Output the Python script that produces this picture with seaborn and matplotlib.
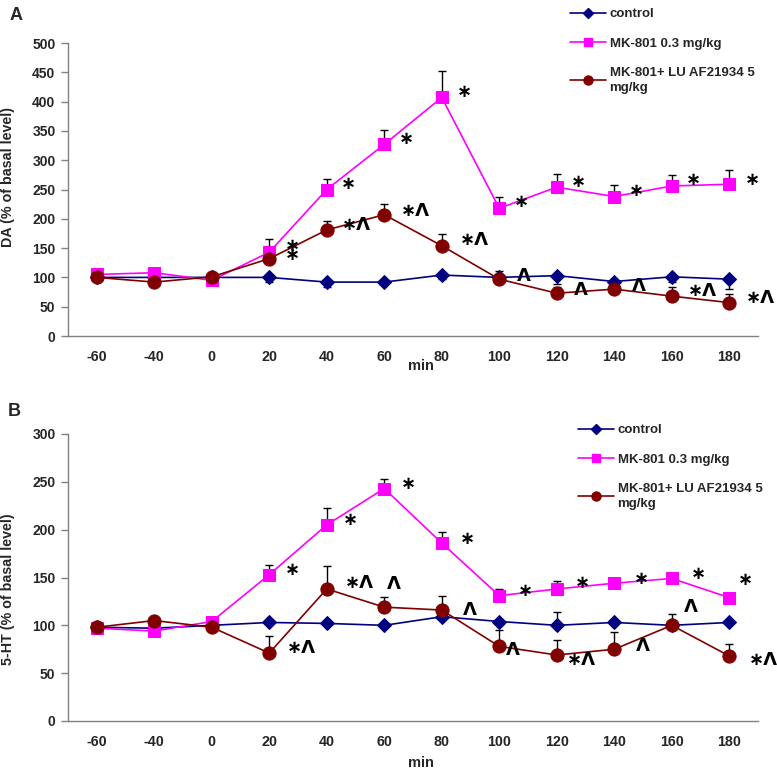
import numpy as np
import pandas as pd
import matplotlib
matplotlib.use("Agg")
import matplotlib.pyplot as plt
import seaborn as sns
from matplotlib.lines import Line2D

# ---------------- data ----------------
times = ['-60', '-40', '0', '20', '40', '60', '80', '100', '120', '140', '160', '180']
series = ['control', 'MK-801 0.3 mg/kg', 'MK-801+ LU AF21934 5\nmg/kg']

# Panel A: DA
da_control = [100, 100, 100, 100, 92, 92, 104, 100, 103, 93, 101, 97]
da_control_err = [0, 0, 0, 8, 8, 3, 7, 3, 14, 5, 8, 17]      # drawn downward
da_mk = [105, 108, 95, 143, 250, 327, 407, 218, 254, 238, 256, 259]
da_mk_err = [0, 0, 0, 22, 18, 24, 45, 20, 22, 20, 19, 25]
da_lu = [100, 92, 101, 132, 181, 207, 154, 97, 73, 80, 68, 57]
da_lu_err = [0, 0, 0, 0, 16, 18, 20, 14, 11, 0, 16, 15]

# Panel B: 5-HT
ht_control = [98, 97, 100, 103, 102, 100, 109, 104, 100, 103, 100, 103]
ht_control_err = [0, 0, 0, 0, 0, 0, 0, 0, 14, 0, 0, 0]
ht_mk = [97, 94, 104, 153, 205, 243, 186, 131, 138, 144, 149, 129]
ht_mk_err = [0, 0, 0, 10, 18, 10, 12, 7, 8, 0, 6, 0]
ht_lu = [98, 105, 98, 71, 138, 119, 116, 78, 69, 75, 100, 68]
ht_lu_err = [0, 0, 0, 18, 24, 11, 15, 17, 16, 18, 12, 13]

# significance marks: (time, y-value, text)
da_marks = [('20', 153, '*'), ('20', 139, '*'), ('40', 260, '*'), ('40', 190, '*^'),
            ('60', 337, '*'), ('60', 214, '*^'), ('80', 416, '*'), ('80', 163, '*^'),
            ('100', 229, '*'), ('100', 103, '^'), ('120', 263, '*'), ('120', 78, '^'),
            ('140', 247, '*'), ('140', 86, '^'), ('160', 266, '*'), ('160', 76, '*^'),
            ('180', 267, '*'), ('180', 65, '*^')]
ht_marks = [('20', 158, '*'), ('20', 76, '*^'), ('40', 210, '*'), ('40', 144, '*^'),
            ('60', 143, '^'), ('60', 248, '*'), ('80', 190, '*'), ('80', 116, '^'),
            ('100', 136, '*'), ('100', 74, '^'), ('120', 144, '*'), ('120', 64, '*^'),
            ('140', 148, '*'), ('140', 78, '^'), ('160', 154, '*'), ('160', 119, '^'),
            ('180', 147, '*'), ('180', 64, '*^')]
da_mark_dx = [0.4, 0.4, 0.37, 0.52, 0.38, 0.54, 0.4, 0.56, 0.38, 0.43, 0.37, 0.42,
              0.38, 0.43, 0.37, 0.54, 0.4, 0.54]
ht_mark_dx = [0.4, 0.56, 0.42, 0.56, 0.16, 0.42, 0.45, 0.49, 0.45, 0.24, 0.45, 0.42,
              0.47, 0.5, 0.47, 0.33, 0.28, 0.59]

# ---------------- style ----------------
sns.set_style("white")
plt.rcParams['font.family'] = ['Liberation Sans', 'DejaVu Sans']
plt.rcParams['font.weight'] = 'bold'

colors = ['#000080', '#FF00FF', '#800000']
markers = ['D', 's', 'o']
msizes = [7, 8, 9.5]
lsize = [5, 6, 6.5]

W, H = 777, 773
fig = plt.figure(figsize=(W / 100, H / 100), dpi=100)
axA = fig.add_axes([68 / W, 1 - 336 / H, 690 / W, (336 - 43) / H])
axB = fig.add_axes([68 / W, 1 - 721 / H, 690 / W, (721 - 434) / H])


def draw(ax, vals, errs, err_down, ymax, marks, mark_dx):
    pos = np.arange(len(times))
    for k, (v, e) in enumerate(zip(vals, errs)):
        df = pd.DataFrame({'pos': pos, 'value': v})
        e = np.asarray(e, float)
        m = e > 0
        if m.any():
            lo = e[m] if err_down[k] else np.zeros(m.sum())
            hi = np.zeros(m.sum()) if err_down[k] else e[m]
            ax.errorbar(pos[m], np.asarray(v, float)[m], yerr=[lo, hi], fmt='none',
                        ecolor='black', elinewidth=1.0, capsize=3, capthick=1.0, zorder=1)
        sns.lineplot(data=df, x='pos', y='value', ax=ax, color=colors[k], marker=markers[k],
                     markersize=msizes[k], markeredgecolor=colors[k], linewidth=1.2,
                     sort=False, legend=False, zorder=2 + k)
    for (t, y, s), dx in zip(marks, mark_dx):
        txt = s.replace('*', '\u2217').replace('^', '\u039b')
        ax.text(times.index(t) + dx, y, txt, ha='center', va='center', fontsize=13,
                fontweight='bold', family=['DejaVu Sans'], color='black', zorder=6)
    ax.set_xlim(-0.5, len(times) - 0.5)
    ax.set_ylim(0, ymax)
    ax.set_yticks(np.arange(0, ymax + 1, 50))
    ax.set_xticks(pos)
    ax.set_xticklabels(times)
    ax.set_xticks(np.arange(-0.5, len(times), 1), minor=True)
    ax.tick_params(axis='x', which='major', length=0, pad=10, labelsize=10.3)
    ax.tick_params(axis='x', which='minor', length=4, width=1, color='#808080', direction='out')
    ax.tick_params(axis='y', length=5, width=1, color='#808080', direction='out', pad=4,
                   labelsize=10, left=True)
    for lab in ax.get_xticklabels() + ax.get_yticklabels():
        lab.set_fontweight('bold')
    for sp in ['top', 'right']:
        ax.spines[sp].set_visible(False)
    for sp in ['left', 'bottom']:
        ax.spines[sp].set_color('#808080')
        ax.spines[sp].set_linewidth(1)
    ax.set_xlabel('')
    ax.set_ylabel('')


draw(axA, [da_control, da_mk, da_lu], [da_control_err, da_mk_err, da_lu_err],
     [True, False, False], 500, da_marks, da_mark_dx)
draw(axB, [ht_control, ht_mk, ht_lu], [ht_control_err, ht_mk_err, ht_lu_err],
     [False, False, False], 300, ht_marks, ht_mark_dx)

handles = [Line2D([], [], color=colors[k], marker=markers[k], markersize=lsize[k],
                  linewidth=1.2) for k in range(3)]
for ax, (lx, ly) in [(axA, (570, 8)), (axB, (578, 424))]:
    leg = fig.legend(handles, series, loc='upper left', bbox_to_anchor=(lx / W, 1 - ly / H),
                     frameon=False, prop={'weight': 'bold', 'size': 9.5},
                     handlelength=2.7, handletextpad=0.3, labelspacing=1.3,
                     borderpad=0, borderaxespad=0)
    leg.get_texts()[2].set_linespacing(1.35)

fig.text(10 / W, 1 - 15 / H, 'A', fontsize=13, fontweight='bold', ha='left', va='center')
fig.text(8 / W, 1 - 412 / H, 'B', fontsize=13, fontweight='bold', ha='left', va='center')
fig.text(8 / W, 1 - 177 / H, 'DA (% of basal level)', rotation=90, fontsize=10.3,
         fontweight='bold', ha='center', va='center')
fig.text(8 / W, 1 - 589 / H, '5-HT (% of basal level)', rotation=90, fontsize=10.3,
         fontweight='bold', ha='center', va='center')
fig.text(421 / W, 1 - 366 / H, 'min', fontsize=10.5, fontweight='bold', ha='center', va='center')
fig.text(421 / W, 1 - 763 / H, 'min', fontsize=10.5, fontweight='bold', ha='center', va='center')

fig.savefig('out.png', dpi=100)
